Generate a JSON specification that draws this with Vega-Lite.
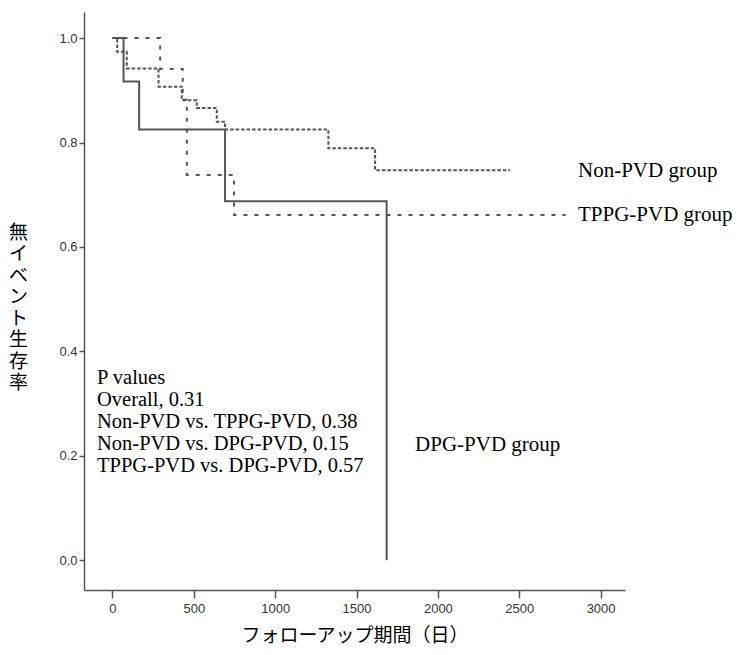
{
  "$schema": "https://vega.github.io/schema/vega-lite/v6.json",
  "width": 541,
  "height": 578,
  "autosize": {"type": "none"},
  "padding": {"left": 84, "top": 12, "right": 131, "bottom": 65},
  "background": "white",
  "config": {"view": {"stroke": null}},
  "datasets": {
    "curves": [
      {"group": "DPG-PVD", "day": 0, "surv": 1.0},
      {"group": "DPG-PVD", "day": 68, "surv": 0.917},
      {"group": "DPG-PVD", "day": 164, "surv": 0.825},
      {"group": "DPG-PVD", "day": 692, "surv": 0.6875},
      {"group": "DPG-PVD", "day": 1685, "surv": 0.0},
      {"group": "Non-PVD", "day": 0, "surv": 1.0},
      {"group": "Non-PVD", "day": 29, "surv": 0.974},
      {"group": "Non-PVD", "day": 88, "surv": 0.942},
      {"group": "Non-PVD", "day": 283, "surv": 0.907},
      {"group": "Non-PVD", "day": 426, "surv": 0.881},
      {"group": "Non-PVD", "day": 518, "surv": 0.866},
      {"group": "Non-PVD", "day": 641, "surv": 0.84},
      {"group": "Non-PVD", "day": 692, "surv": 0.825},
      {"group": "Non-PVD", "day": 1327, "surv": 0.789},
      {"group": "Non-PVD", "day": 1614, "surv": 0.747},
      {"group": "Non-PVD", "day": 2443, "surv": 0.747},
      {"group": "TPPG-PVD", "day": 0, "surv": 1.0},
      {"group": "TPPG-PVD", "day": 293, "surv": 0.941},
      {"group": "TPPG-PVD", "day": 432, "surv": 0.882},
      {"group": "TPPG-PVD", "day": 457, "surv": 0.738},
      {"group": "TPPG-PVD", "day": 747, "surv": 0.661},
      {"group": "TPPG-PVD", "day": 2785, "surv": 0.661}
    ],
    "grouplabels": [
      {"label": "Non-PVD group", "day": 2861, "surv": 0.745},
      {"label": "TPPG-PVD group", "day": 2861, "surv": 0.661},
      {"label": "DPG-PVD group", "day": 1860, "surv": 0.221}
    ],
    "pvalues": [
      {"label": "P values", "day": -95, "surv": 0.349},
      {"label": "Overall, 0.31", "day": -95, "surv": 0.307},
      {"label": "Non-PVD vs. TPPG-PVD, 0.38", "day": -95, "surv": 0.265},
      {"label": "Non-PVD vs. DPG-PVD, 0.15", "day": -95, "surv": 0.223},
      {"label": "TPPG-PVD vs. DPG-PVD, 0.57", "day": -95, "surv": 0.181}
    ]
  },
  "encoding": {
    "x": {
      "field": "day",
      "type": "quantitative",
      "scale": {"domain": [-175, 3150], "nice": false, "zero": false},
      "axis": {
        "values": [0, 500, 1000, 1500, 2000, 2500, 3000],
        "format": "d",
        "title": "フォローアップ期間（日）",
        "grid": false,
        "domainColor": "#555555",
        "domainWidth": 1.5,
        "tickColor": "#555555",
        "tickWidth": 1.5,
        "tickSize": 8,
        "labelFont": "Liberation Sans",
        "labelFontSize": 13,
        "labelColor": "#333333",
        "labelPadding": 4,
        "titleFont": "Noto Sans CJK JP",
        "titleFontSize": 19,
        "titleFontWeight": "normal",
        "titleColor": "#000000",
        "titlePadding": 11
      }
    },
    "y": {
      "field": "surv",
      "type": "quantitative",
      "scale": {"domain": [-0.057, 1.05], "nice": false, "zero": false},
      "axis": {
        "values": [0, 0.2, 0.4, 0.6, 0.8, 1.0],
        "format": ".1f",
        "title": ["無", "イ", "ベ", "ン", "ト", "生", "存", "率"],
        "titleAngle": 0,
        "titleX": -66,
        "titleY": 220,
        "titleAlign": "center",
        "titleBaseline": "middle",
        "titleLineHeight": 21.5,
        "grid": false,
        "domainColor": "#555555",
        "domainWidth": 1.5,
        "tickColor": "#555555",
        "tickWidth": 1.5,
        "tickSize": 5,
        "labelFont": "Liberation Sans",
        "labelFontSize": 13,
        "labelColor": "#333333",
        "labelPadding": 2,
        "titleFont": "Noto Sans CJK JP",
        "titleFontSize": 19,
        "titleFontWeight": "normal",
        "titleColor": "#000000"
      }
    }
  },
  "layer": [
    {
      "data": {"name": "curves"},
      "mark": {"type": "line", "interpolate": "step-after", "strokeWidth": 2, "color": "#555555"},
      "encoding": {
        "strokeDash": {
          "field": "group",
          "type": "nominal",
          "scale": {"domain": ["DPG-PVD", "Non-PVD", "TPPG-PVD"], "range": [[1, 0], [3.5, 2], [4, 7]]},
          "legend": null
        }
      }
    },
    {
      "data": {"name": "grouplabels"},
      "mark": {"type": "text", "align": "left", "baseline": "middle", "font": "Liberation Serif", "fontSize": 21, "color": "#000000"},
      "encoding": {"text": {"field": "label"}}
    },
    {
      "data": {"name": "pvalues"},
      "mark": {"type": "text", "align": "left", "baseline": "middle", "font": "Liberation Serif", "fontSize": 20.5, "color": "#000000"},
      "encoding": {"text": {"field": "label"}}
    }
  ]
}
